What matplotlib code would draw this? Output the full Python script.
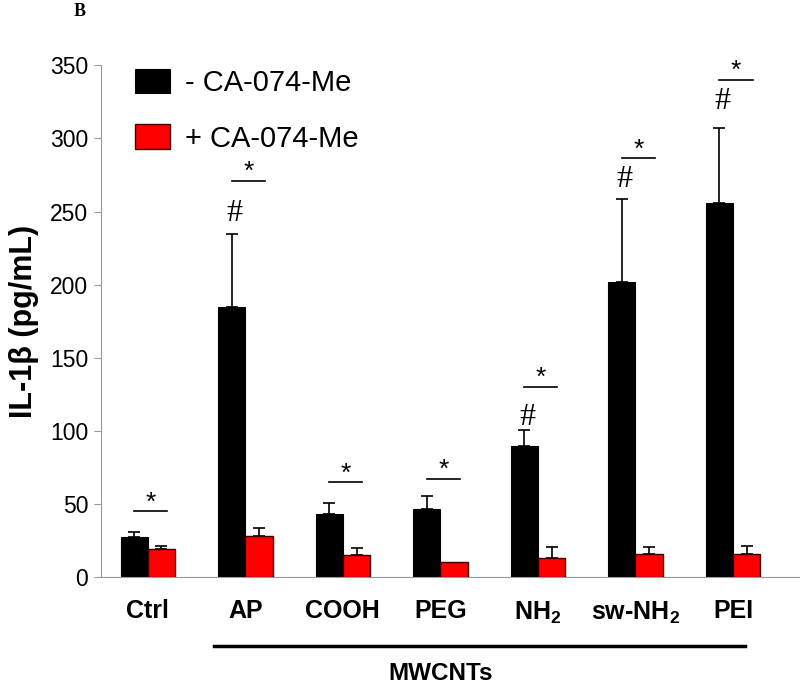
import matplotlib
matplotlib.use("Agg")
import matplotlib.pyplot as plt
import numpy as np

groups = ["Ctrl", "AP", "COOH", "PEG", "NH$_\\mathbf{2}$", "sw-NH$_\\mathbf{2}$", "PEI"]
minus_vals = [27.5, 185, 43.5, 46.5, 89.5, 202, 256]
minus_err = [3.5, 50, 7.5, 9, 11, 56.5, 51.5]
plus_vals = [19.5, 28.5, 15, 10.5, 13, 16, 16]
plus_err = [2, 5.5, 5, 0, 7.5, 4.5, 5.5]

# significance bars (*) and hash marks (#)
star_y = [45, 271, 65, 67.5, 130, 286.5, 340]
hash_y = [None, 249, None, None, 109, 272, 325]

plt.rcParams["font.family"] = ["Liberation Sans", "DejaVu Sans"]
plt.rcParams["mathtext.fontset"] = "custom"
plt.rcParams["mathtext.rm"] = "Liberation Sans"
plt.rcParams["mathtext.bf"] = "Liberation Sans:bold"

fig = plt.figure(figsize=(8, 6.88), dpi=100)
ax = fig.add_axes([0.126, 0.161, 0.874, 0.744])

x = np.arange(len(groups))
w = 0.28
ax.bar(x - w / 2, minus_vals, w, color="black", edgecolor="black", linewidth=0.8,
       label="- CA-074-Me", zorder=2)
ax.bar(x + w / 2, plus_vals, w, color="#ff0000", edgecolor="#3a0000", linewidth=1.0,
       label="+ CA-074-Me", zorder=2)
ax.errorbar(x - w / 2, minus_vals, yerr=[np.zeros(len(x)), minus_err], fmt="none",
            ecolor="black", elinewidth=1.2, capsize=4, capthick=1.2, zorder=1)
pe = np.array(plus_err)
ax.errorbar((x + w / 2)[pe > 0], np.array(plus_vals)[pe > 0],
            yerr=[np.zeros((pe > 0).sum()), pe[pe > 0]], fmt="none",
            ecolor="black", elinewidth=1.2, capsize=4, capthick=1.2, zorder=1)

for i, yv in enumerate(star_y):
    ax.plot([i - 0.14, i + 0.2], [yv, yv], color="black", lw=1.2)
    ax.text(i + 0.03, yv + 6, "*", ha="center", va="center", fontsize=19)
for i, yv in enumerate(hash_y):
    if yv is not None:
        ax.text(i - w / 2 + 0.03, yv, "#", ha="center", va="center", fontsize=23,
                family="Liberation Serif")

ax.set_xlim(-0.482, 6.687)
ax.set_ylim(0, 350)
ax.set_yticks(range(0, 351, 50))
ax.tick_params(axis="y", labelsize=16.5, length=5, color="#999999", pad=4)
ax.set_xticks(x)
ax.set_xticklabels(groups, fontsize=18, fontweight="bold")
ax.tick_params(axis="x", length=0, pad=16)
for s in ["top", "right"]:
    ax.spines[s].set_visible(False)
ax.spines["left"].set_color("#999999")
ax.spines["bottom"].set_color("#999999")
ax.set_ylabel("IL-1β (pg/mL)", fontsize=22, fontweight="bold", labelpad=8)

# MWCNTs bracket
ax.plot([0.68, 6.12], [-47, -47], color="black", lw=2.5, clip_on=False)
ax.text(3.0, -70, "MWCNTs", ha="center", va="baseline", fontsize=17.5, fontweight="bold")

ax.legend(loc="upper left", bbox_to_anchor=(0.012, 1.045), frameon=False, fontsize=21,
          handlelength=1.2, handleheight=0.9, labelspacing=0.95, handletextpad=0.5)

fig.text(0.1, 0.995, "B", fontsize=13, fontweight="bold", family="Liberation Serif",
         ha="center", va="top")

fig.savefig("out.png", dpi=100)
